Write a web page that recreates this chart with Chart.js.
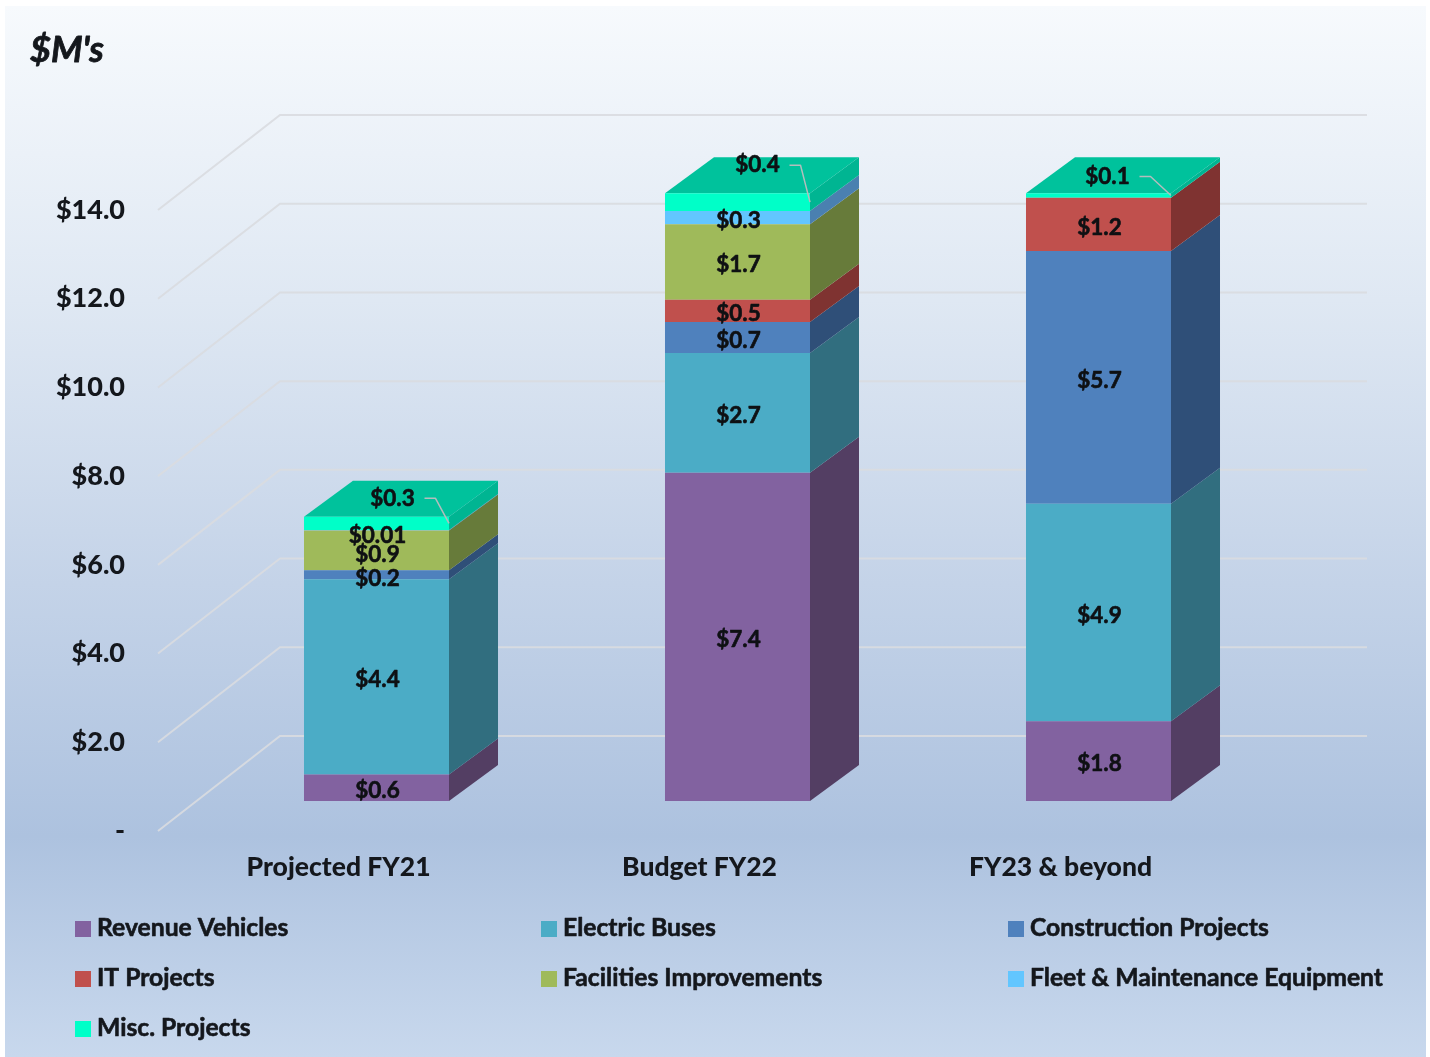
<!DOCTYPE html>
<html>
<head>
<meta charset="utf-8">
<title>$M's</title>
<style>
  body { margin: 0; background: #fff; }
  canvas { display: block; }
</style>
<script src="https://cdn.jsdelivr.net/npm/chart.js@4/dist/chart.umd.min.js"></script>
</head>
<body>
<canvas id="capexChart" width="1430" height="1057"></canvas>
<script>
const categories = ['Projected FY21', 'Budget FY22', 'FY23 & beyond'];
const yTickLabels = ['-', '$2.0', '$4.0', '$6.0', '$8.0', '$10.0', '$12.0', '$14.0'];

const seriesNames = ['Revenue Vehicles', 'Electric Buses', 'Construction Projects', 'IT Projects',
    'Facilities Improvements', 'Fleet & Maintenance Equipment', 'Misc. Projects'];

const revenueVehicles = [0.6, 7.4, 1.8];
const electricBuses = [4.4, 2.7, 4.9];
const constructionProjects = [0.2, 0.7, 5.7];
const itProjects = [null, 0.5, 1.2];
const facilitiesImprovements = [0.9, 1.7, null];
const fleetEquipment = [0.01, 0.3, null];
const miscProjects = [0.3, 0.4, 0.1];

const seriesValues = [revenueVehicles, electricBuses, constructionProjects, itProjects,
    facilitiesImprovements, fleetEquipment, miscProjects];

const frontColors = ['#8262a0', '#4bacc6', '#4f81bd', '#c0504d', '#9fba5a', '#62c6ff', '#00ffc8'];
const sideColors = ['#533e63', '#316e7f', '#2f4f78', '#7f3331', '#677b3a', '#4a80b0', '#00b592'];
const topColor = '#00c29c';

// Oblique depth: axis plane -> front of the bars -> back wall
const barShift = { x: 38, y: -30 };
const barDepth = { x: 49, y: -36 };
const wallShift = { x: 122, y: -95 };
const wallRight = 1367;

const fontFamily = "Lato, 'Open Sans', sans-serif";
const textColor = '#14171c';

// Misc. labels sit on the top face and get a leader line back to their band
const miscLabelShift = [[16, -25], [20, -37], [9, -19]];
const leaderStart = 32;
const leaderElbow = 43;
const labelNudge = 3;
const labelCenterShift = 1;
// The FY21 labels are squeezed together, so these sit a little lower
const fy21Nudge = { 2: 1, 4: 1, 5: 3 };

function barGeometry(chart, datasetIndex, index) {
    const bar = chart.getDatasetMeta(datasetIndex).data[index];
    const { x, y, base, width } = bar.getProps(['x', 'y', 'base', 'width'], true);
    return {
        left: x - width / 2 + barShift.x,
        right: x + width / 2 + barShift.x,
        top: y + barShift.y,
        bottom: base + barShift.y,
        cx: x + barShift.x,
        cy: (y + base) / 2 + barShift.y
    };
}

function polygon(ctx, points, color) {
    ctx.fillStyle = color;
    ctx.beginPath();
    points.forEach(([x, y], i) => i ? ctx.lineTo(x, y) : ctx.moveTo(x, y));
    ctx.closePath();
    ctx.fill();
}

// Fill plus a hairline stroke, Lato Bold is a bit thin at these sizes
function heavyText(ctx, text, x, y, weight) {
    ctx.lineWidth = weight;
    ctx.lineJoin = 'round';
    ctx.strokeStyle = ctx.fillStyle;
    ctx.strokeText(text, x, y);
    ctx.fillText(text, x, y);
}

const panelPlugin = {
    id: 'panel',
    beforeDraw(chart) {
        const { ctx } = chart;
        const grad = ctx.createLinearGradient(0, 6, 0, 1057);
        grad.addColorStop(0, '#f7fafd');
        grad.addColorStop(0.28, '#dfe8f3');
        grad.addColorStop(0.55, '#c4d3e8');
        grad.addColorStop(0.79, '#adc2df');
        grad.addColorStop(1, '#c8d8ed');
        ctx.save();
        ctx.fillStyle = grad;
        ctx.fillRect(5, 6, 1421, 1051);

        ctx.fillStyle = textColor;
        ctx.font = `italic bold 36px ${fontFamily}`;
        ctx.textAlign = 'left';
        ctx.textBaseline = 'middle';
        heavyText(ctx, "$M's", 30, 50, 0.8);
        ctx.restore();
    }
};

const wallPlugin = {
    id: 'wall',
    beforeDatasetsDraw(chart) {
        const { ctx, scales: { x, y } } = chart;
        ctx.save();
        ctx.lineWidth = 2;
        ctx.strokeStyle = 'rgba(217, 220, 224, 0.9)';
        y.ticks.forEach(tick => {
            const py = y.getPixelForValue(tick.value);
            ctx.beginPath();
            ctx.moveTo(x.left, py);
            ctx.lineTo(x.left + wallShift.x, py + wallShift.y);
            ctx.lineTo(wallRight, py + wallShift.y);
            ctx.stroke();
        });
        ctx.restore();
    }
};

const depthPlugin = {
    id: 'depth',
    beforeDatasetsDraw(chart) {
        const { ctx } = chart;
        ctx.save();
        categories.forEach((_, i) => {
            let last = null;
            seriesValues.forEach((values, d) => {
                if (values[i] === null) return;
                const g = barGeometry(chart, d, i);
                polygon(ctx, [
                    [g.right, g.top],
                    [g.right + barDepth.x, g.top + barDepth.y],
                    [g.right + barDepth.x, g.bottom + barDepth.y],
                    [g.right, g.bottom]
                ], sideColors[d]);
                last = g;
            });
            polygon(ctx, [
                [last.left, last.top],
                [last.left + barDepth.x, last.top + barDepth.y],
                [last.right + barDepth.x, last.top + barDepth.y],
                [last.right, last.top]
            ], topColor);
        });
        ctx.restore();
        // Chart.js draws the bars inside this translation
        ctx.save();
        ctx.translate(barShift.x, barShift.y);
    },
    afterDatasetsDraw(chart) {
        chart.ctx.restore();
    }
};

const valueLabelPlugin = {
    id: 'valueLabels',
    afterDatasetsDraw(chart) {
        const { ctx } = chart;
        const miscIndex = seriesValues.length - 1;
        ctx.save();
        ctx.font = `bold 22.5px ${fontFamily}`;
        ctx.textAlign = 'center';
        ctx.textBaseline = 'middle';
        seriesValues.forEach((values, d) => {
            values.forEach((v, i) => {
                if (v === null) return;
                const g = barGeometry(chart, d, i);
                let lx = g.cx + labelCenterShift;
                let ly = g.cy + labelNudge;
                if (i === 0 && fy21Nudge[d]) ly += fy21Nudge[d];
                if (d === miscIndex) {
                    lx = g.cx + miscLabelShift[i][0];
                    ly = g.cy + miscLabelShift[i][1];
                    ctx.strokeStyle = '#b4bdbd';
                    ctx.lineWidth = 1.5;
                    ctx.beginPath();
                    ctx.moveTo(lx + leaderStart, ly);
                    ctx.lineTo(lx + leaderElbow, ly);
                    ctx.lineTo(g.right, g.cy);
                    ctx.stroke();
                }
                ctx.fillStyle = '#0e1013';
                heavyText(ctx, `$${v.toFixed(v < 0.1 ? 2 : 1)}`, lx, ly, 0.6);
            });
        });
        ctx.restore();
    }
};

// Three column legend, the built-in one only does centred rows
const gridLegendPlugin = {
    id: 'gridLegend',
    afterDraw(chart) {
        const { ctx } = chart;
        const columns = [75, 541, 1008];
        const rows = [928, 978, 1028];
        ctx.save();
        ctx.font = `bold 24.7px ${fontFamily}`;
        ctx.textAlign = 'left';
        ctx.textBaseline = 'middle';
        chart.data.datasets.forEach((ds, i) => {
            const x = columns[i % 3];
            const y = rows[Math.floor(i / 3)];
            ctx.fillStyle = ds.backgroundColor;
            ctx.fillRect(x, y - 7, 16, 16);
            ctx.fillStyle = textColor;
            heavyText(ctx, ds.label, x + 22, y, 0.6);
        });
        ctx.restore();
    }
};

new Chart(document.getElementById('capexChart'), {
    type: 'bar',
    data: {
        labels: categories,
        datasets: seriesNames.map((name, i) => ({
            label: name,
            data: seriesValues[i],
            backgroundColor: frontColors[i],
            borderWidth: 0,
            clip: false
        }))
    },
    plugins: [panelPlugin, wallPlugin, depthPlugin, valueLabelPlugin, gridLegendPlugin],
    options: {
        responsive: false,
        animation: false,
        layout: { padding: { top: 210, right: 189, left: 0, bottom: 0 } },
        datasets: { bar: { categoryPercentage: 1, barPercentage: 0.4017 } },
        plugins: {
            legend: { display: false },
            tooltip: { enabled: false }
        },
        scales: {
            x: {
                stacked: true,
                grid: { display: false, drawTicks: false },
                border: { display: false },
                ticks: {
                    padding: 21,
                    color: textColor,
                    maxRotation: 0,
                    font: { family: fontFamily, weight: '900', size: 26.5 }
                },
                afterFit(scale) { scale.height = 226; }
            },
            y: {
                stacked: true,
                min: 0,
                max: 14,
                grid: { display: false, drawTicks: false },
                border: { display: false },
                ticks: {
                    stepSize: 2,
                    padding: 33,
                    color: textColor,
                    font: { family: fontFamily, weight: '900', size: 27 },
                    callback: (value, index) => yTickLabels[index]
                },
                afterFit(scale) { scale.width = 158; }
            }
        }
    }
});
</script>
</body>
</html>
